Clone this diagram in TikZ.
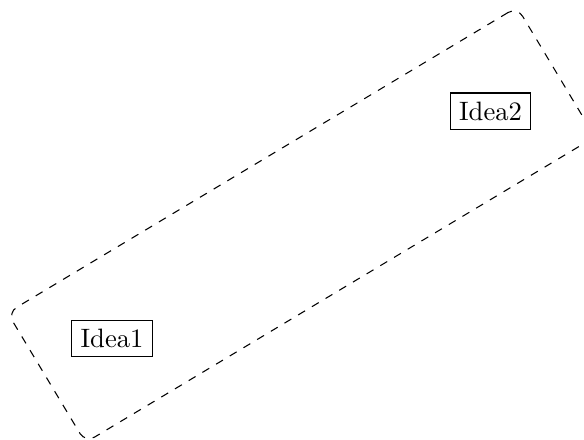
\documentclass[tikz,border=0pt]{standalone}
\usetikzlibrary{calc}
\begin{document}
\begin{tikzpicture}
\useasboundingbox (-1.48,-1.33) rectangle (6.235,4.47);
\tikzset{idea/.style={draw}, frame/.style={draw, dashed, rounded corners, minimum width=7.85cm, minimum height=2cm, inner sep=0pt}}
\node[idea] (a) at (0,0) {Idea1};
\node[idea] (b) at (5,3) {Idea2};
\coordinate (c) at ($(a)!0.5!(b)$);
\node[frame, rotate=30.96] (f) at (c) {};
\end{tikzpicture}
\end{document}
